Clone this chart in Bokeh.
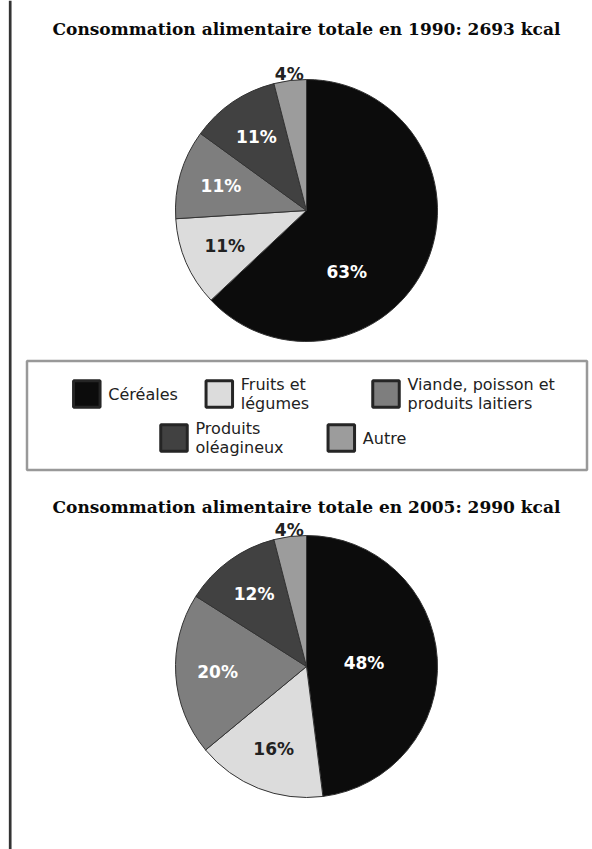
import math
from bokeh.plotting import figure
from bokeh.models import Range1d, ColumnDataSource
from bokeh.core.properties import value
from bokeh.embed import file_html
from bokeh.resources import INLINE

# ---------------- data ----------------
categories = ["Céréales", "Fruits et légumes", "Viande, poisson et produits laitiers",
              "Produits oléagineux", "Autre"]
legend_labels = ["Céréales", "Fruits et\nlégumes", "Viande, poisson et\nproduits laitiers",
                 "Produits\noléagineux", "Autre"]
values_1990 = [63, 11, 11, 11, 4]
values_2005 = [48, 16, 20, 12, 4]
title_1990 = "Consommation alimentaire totale en 1990: 2693 kcal"
title_2005 = "Consommation alimentaire totale en 2005: 2990 kcal"

# ---------------- style ----------------
colors = ["#0c0c0c", "#dcdcdc", "#7e7e7e", "#414141", "#9c9c9c"]
label_colors = ["#ffffff", "#222222", "#ffffff", "#ffffff", "#222222"]

W, H = 592, 849
OFF = 0


def px(x_page):
    return x_page - OFF


def py(y_page):
    return H + OFF - y_page


p = figure(width=W, height=H, x_range=Range1d(0, W), y_range=Range1d(0, H),
           output_backend="svg", toolbar_location=None, min_border=0,
           x_axis_location=None, y_axis_location=None)
p.grid.visible = False
p.outline_line_color = None
p.background_fill_color = "white"
p.border_fill_color = "white"

# left rule
p.line(x=[px(9.7), px(9.7)], y=[0, H], line_color="#333333", line_width=2.7)


def pie(vals, cx, cy, r, title, title_y):
    total = float(sum(vals))
    cum = 0.0
    starts, ends, lx, ly = [], [], [], []
    for v in vals:
        a0 = cum / total
        cum += v
        a1 = cum / total
        starts.append(math.pi / 2 - 2 * math.pi * a1)
        ends.append(math.pi / 2 - 2 * math.pi * a0)
        mid = math.pi * (a0 + a1)          # clockwise from 12 o'clock
        frac = v / total
        if frac < 0.05:                    # tiny slice: label outside
            f = 1.05
        elif frac > 0.5:                   # over half: label pulled toward the bottom
            mid = (mid + math.pi) / 2
            f = 0.56
        elif frac > 0.4:
            f = 0.44
        else:
            f = 0.68
        lx.append(cx + f * r * math.sin(mid))
        ly.append(cy + f * r * math.cos(mid))
    src = ColumnDataSource(dict(start=starts, end=ends, color=colors, lx=lx, ly=ly,
                                text=[f"{v}%" for v in vals], tc=label_colors))
    p.wedge(x=cx, y=cy, radius=r, start_angle="start", end_angle="end",
            fill_color="color", line_color="#333333", line_width=1, source=src)
    p.text(x="lx", y="ly", text="text", text_color="tc", text_align="center",
           text_baseline="middle", text_font=value("DejaVu Sans"),
           text_font_style="bold", text_font_size="17px", source=src)
    p.text(x=[cx], y=[title_y], text=[title], text_align="center",
           text_baseline="alphabetic", text_font=value("DejaVu Serif"),
           text_font_style="bold", text_font_size="17px", text_color="#0a0a0a")


pie(values_1990, px(306), py(210), 131, title_1990, py(28.3))
pie(values_2005, px(306), py(666), 131, title_2005, py(506.7))

# legend box
bx0, bx1, by0, by1 = px(26.5), px(586.5), py(469.5), py(360.5)
p.quad(left=[bx0], right=[bx1], bottom=[by0], top=[by1], fill_color="white",
       line_color="#999999", line_width=2.5)

# legend layout (page px centres of swatches)
sw_x = [86.3, 218.8, 385.5, 173.5, 340.8]
sw_y = [393.5, 393.5, 393.5, 437.5, 437.5]
lsrc = ColumnDataSource(dict(x=[px(v) for v in sw_x], y=[py(v) for v in sw_y],
                             tx=[px(v) + 21.5 for v in sw_x], color=colors,
                             label=legend_labels))
p.rect(x="x", y="y", width=26.5, height=26.5, fill_color="color",
       line_color="#252525", line_width=3, source=lsrc)
p.text(x="tx", y="y", text="label", text_align="left", text_baseline="middle",
       text_font=value("DejaVu Sans"), text_font_size="16px", text_color="#222222",
       text_line_height=1.0, source=lsrc)

open("out.html", "w").write(file_html(p, INLINE))
